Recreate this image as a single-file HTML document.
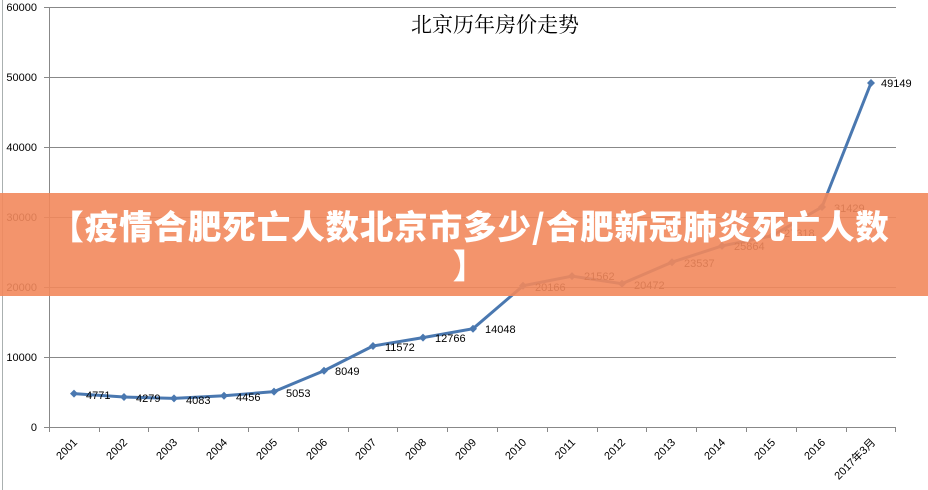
<!DOCTYPE html>
<html><head><meta charset="utf-8"><style>
body{margin:0;background:#fff;}
#w{position:relative;width:928px;height:490px;overflow:hidden;font-family:"Liberation Sans","Noto Sans CJK SC",sans-serif;}
#ban{position:absolute;left:0;top:193px;width:928px;height:103px;background:rgba(242,136,92,0.9);}
#bt{position:absolute;left:6px;top:205px;width:928px;text-align:center;color:#fff;font-weight:900;font-size:33.5px;letter-spacing:0.9px;line-height:39px;font-family:"Noto Sans CJK SC","WenQuanYi Zen Hei",sans-serif;white-space:nowrap;}
</style></head><body><div id="w">
<svg width="928" height="490" style="position:absolute;left:0;top:0" font-family="Liberation Sans, DejaVu Sans, sans-serif">
<line x1="2.5" y1="0" x2="2.5" y2="490" stroke="#aab0b0"/>
<g stroke="#888" stroke-width="1">
<line x1="44" y1="7.5" x2="896" y2="7.5"/><line x1="44" y1="77.5" x2="896" y2="77.5"/>
<line x1="44" y1="147.5" x2="896" y2="147.5"/><line x1="44" y1="217.5" x2="896" y2="217.5"/>
<line x1="44" y1="287.5" x2="896" y2="287.5"/><line x1="44" y1="357.5" x2="896" y2="357.5"/>
<line x1="44" y1="427.5" x2="896" y2="427.5"/>
<line x1="49.5" y1="7" x2="49.5" y2="432"/>
</g>
<g stroke="#888"><line x1="99.5" y1="427" x2="99.5" y2="432"/><line x1="148.5" y1="427" x2="148.5" y2="432"/><line x1="198.5" y1="427" x2="198.5" y2="432"/><line x1="248.5" y1="427" x2="248.5" y2="432"/><line x1="298.5" y1="427" x2="298.5" y2="432"/><line x1="348.5" y1="427" x2="348.5" y2="432"/><line x1="397.5" y1="427" x2="397.5" y2="432"/><line x1="447.5" y1="427" x2="447.5" y2="432"/><line x1="497.5" y1="427" x2="497.5" y2="432"/><line x1="547.5" y1="427" x2="547.5" y2="432"/><line x1="597.5" y1="427" x2="597.5" y2="432"/><line x1="646.5" y1="427" x2="646.5" y2="432"/><line x1="696.5" y1="427" x2="696.5" y2="432"/><line x1="746.5" y1="427" x2="746.5" y2="432"/><line x1="796.5" y1="427" x2="796.5" y2="432"/><line x1="846.5" y1="427" x2="846.5" y2="432"/><line x1="895.5" y1="427" x2="895.5" y2="432"/></g>
<g font-size="11" fill="#000" text-anchor="end">
<text x="37" y="11">60000</text><text x="37" y="81">50000</text><text x="37" y="151">40000</text><text x="37" y="221">30000</text><text x="37" y="291">20000</text><text x="37" y="361">10000</text><text x="37" y="431">0</text>
</g>
<text x="495" y="32" font-size="21" text-anchor="middle" font-family="Noto Serif CJK SC, serif">北京历年房价走势</text>
<polyline fill="none" stroke="#4a78b0" stroke-width="3" points="74,393.6 124,397 174,398.4 224,395.8 274,391.6 324,370.7 373,346 423,337.6 473,328.7 523,285.8 572,276.1 622,283.7 672,262.2 722,245.9 772,235.8 822,207 871,83"/>
<g fill="#4a78b0">
<path d="M74 389.6l4 4-4 4-4-4z"/><path d="M124 393l4 4-4 4-4-4z"/><path d="M174 394.4l4 4-4 4-4-4z"/><path d="M224 391.8l4 4-4 4-4-4z"/><path d="M274 387.6l4 4-4 4-4-4z"/><path d="M324 366.7l4 4-4 4-4-4z"/><path d="M373 342l4 4-4 4-4-4z"/><path d="M423 333.6l4 4-4 4-4-4z"/><path d="M473 324.7l4 4-4 4-4-4z"/><path d="M523 281.8l4 4-4 4-4-4z"/><path d="M572 272.1l4 4-4 4-4-4z"/><path d="M622 279.7l4 4-4 4-4-4z"/><path d="M672 258.2l4 4-4 4-4-4z"/><path d="M722 241.9l4 4-4 4-4-4z"/><path d="M772 231.8l4 4-4 4-4-4z"/><path d="M822 203l4 4-4 4-4-4z"/><path d="M871 79l4 4-4 4-4-4z"/>
</g>
<g font-size="11" fill="#000">
<text x="86" y="399">4771</text><text x="136" y="402">4279</text><text x="186" y="404">4083</text><text x="236" y="401">4456</text><text x="286" y="397">5053</text><text x="335" y="375">8049</text><text x="385" y="351">11572</text><text x="435" y="342">12766</text><text x="485" y="333">14048</text><text x="535" y="291">20166</text><text x="584" y="280">21562</text><text x="634" y="289">20472</text><text x="684" y="267">23537</text><text x="734" y="250">25864</text><text x="784" y="237">27318</text><text x="834" y="212">31429</text><text x="881" y="87">49149</text>
</g>
<g font-size="11" fill="#000" text-anchor="end">
<text transform="translate(78,443) rotate(-45)">2001</text><text transform="translate(128,443) rotate(-45)">2002</text><text transform="translate(178,443) rotate(-45)">2003</text><text transform="translate(228,443) rotate(-45)">2004</text><text transform="translate(278,443) rotate(-45)">2005</text><text transform="translate(328,443) rotate(-45)">2006</text><text transform="translate(377,443) rotate(-45)">2007</text><text transform="translate(427,443) rotate(-45)">2008</text><text transform="translate(477,443) rotate(-45)">2009</text><text transform="translate(527,443) rotate(-45)">2010</text><text transform="translate(576,443) rotate(-45)">2011</text><text transform="translate(626,443) rotate(-45)">2012</text><text transform="translate(676,443) rotate(-45)">2013</text><text transform="translate(726,443) rotate(-45)">2014</text><text transform="translate(776,443) rotate(-45)">2015</text><text transform="translate(826,443) rotate(-45)">2016</text><text transform="translate(876,443) rotate(-45)" font-family="Liberation Sans, Noto Sans CJK SC, sans-serif">2017年3月</text>
</g>
</svg>
<div id="ban"></div>
<div id="bt">【疫情合肥死亡人数北京市多少/合肥新冠肺炎死亡人数<br>】</div>
</div></body></html>
